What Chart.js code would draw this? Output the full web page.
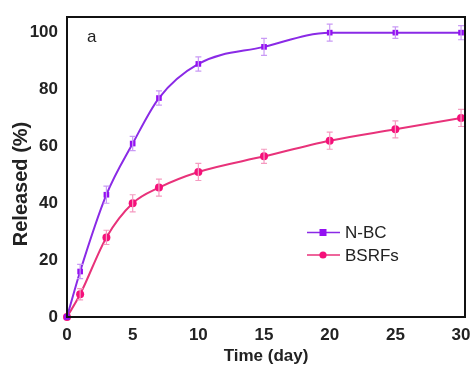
<!DOCTYPE html>
<html><head><meta charset="utf-8">
<script src="https://cdn.jsdelivr.net/npm/chart.js@4/dist/chart.umd.min.js"></script>
<style>html,body{margin:0;padding:0;background:#fff;}#wrap{width:470px;height:365px;}</style>
</head><body><div id="wrap"><canvas id="c" width="470" height="365"></canvas></div>
<script>
const timeDays = [0, 1, 3, 5, 7, 10, 15, 20, 25, 30];
const nbcValues = [0, 16, 43, 61, 77, 89, 95, 100, 100, 100];
const nbcErrors = [0, 2.5, 3, 2.5, 2.5, 2.5, 3, 3, 2, 2.5];
const bsrfValues = [0, 8, 28, 40, 45.5, 51, 56.5, 62, 66, 70];
const bsrfErrors = [0, 2, 2.5, 3, 3, 3, 2.5, 3, 3, 3];
const xTickValues = [0, 5, 10, 15, 20, 25, 30];
const yTickValues = [0, 20, 40, 60, 80, 100];
const seriesNames = ['N-BC', 'BSRFs'];
const panelLabel = 'a';
const xTitle = 'Time (day)';
const yTitle = 'Released (%)';

const nbcLine = '#8a2ae6', nbcMark = '#9410f2', nbcErr = '#c99af5';
const bsrfLine = '#e8327a', bsrfMark = '#f5107a', bsrfErr = '#f59ac0';

const toXY = (xs, ys) => xs.map((x, i) => ({x: x, y: ys[i]}));
const FAM = '"Liberation Sans", Arial, sans-serif';

const errorBars = {
  id: 'errorBars',
  afterDatasetsDraw(chart) {
    const ctx = chart.ctx, xs = chart.scales.x, ys = chart.scales.y;
    const sets = [[nbcValues, nbcErrors, nbcErr], [bsrfValues, bsrfErrors, bsrfErr]];
    ctx.save();
    sets.forEach(([vals, errs, col]) => {
      ctx.strokeStyle = col; ctx.lineWidth = 1.2;
      timeDays.forEach((t, i) => {
        if (!errs[i]) return;
        const px = xs.getPixelForValue(t);
        const y1 = ys.getPixelForValue(vals[i] + errs[i]);
        const y2 = ys.getPixelForValue(vals[i] - errs[i]);
        ctx.beginPath();
        ctx.moveTo(px, y1); ctx.lineTo(px, y2);
        ctx.moveTo(px - 3, y1); ctx.lineTo(px + 3, y1);
        ctx.moveTo(px - 3, y2); ctx.lineTo(px + 3, y2);
        ctx.stroke();
      });
    });
    ctx.restore();
  }
};

const frameAndLegend = {
  id: 'frameAndLegend',
  afterDraw(chart) {
    const ctx = chart.ctx, a = chart.chartArea;
    ctx.save();
    ctx.strokeStyle = '#111'; ctx.lineWidth = 2;
    ctx.strokeRect(a.left, a.top, a.right - a.left, a.bottom - a.top);
    ctx.fillStyle = '#222';
    ctx.font = '17px ' + FAM;
    ctx.textBaseline = 'middle'; ctx.textAlign = 'left';
    ctx.fillText(panelLabel, a.left + 20, a.top + 20);
    const items = [[seriesNames[0], nbcLine, nbcMark, 'rect'], [seriesNames[1], bsrfLine, bsrfMark, 'circle']];
    const lx = 307, ly0 = 232.5, dy = 22.5;
    items.forEach(([name, lc, mc, st], i) => {
      const y = ly0 + i * dy;
      ctx.strokeStyle = lc; ctx.lineWidth = 1.6;
      ctx.beginPath(); ctx.moveTo(lx, y); ctx.lineTo(lx + 33, y); ctx.stroke();
      ctx.fillStyle = mc;
      if (st === 'rect') ctx.fillRect(lx + 12.5, y - 3.5, 7, 7);
      else { ctx.beginPath(); ctx.arc(lx + 16, y, 3.6, 0, Math.PI * 2); ctx.fill(); }
      ctx.fillStyle = '#222';
      ctx.fillText(name, lx + 38, y + 1);
    });
    // axis titles
    ctx.fillStyle = '#222';
    ctx.font = 'bold 17px ' + FAM;
    ctx.textAlign = 'center';
    ctx.fillText(xTitle, (a.left + a.right) / 2, 356);
    ctx.translate(21, 184);
    ctx.rotate(-Math.PI / 2);
    ctx.font = 'bold 20px ' + FAM;
    ctx.fillText(yTitle, 0, 0);
    ctx.restore();
  }
};

const tickFont = {family: FAM, size: 17, weight: 'bold'};

new Chart(document.getElementById('c'), {
  type: 'line',
  data: {
    datasets: [
      {label: seriesNames[0], data: toXY(timeDays, nbcValues), borderColor: nbcLine, backgroundColor: nbcMark,
       borderWidth: 2, pointStyle: 'rect', pointRadius: 4, pointBorderWidth: 0, cubicInterpolationMode: 'monotone', clip: false},
      {label: seriesNames[1], data: toXY(timeDays, bsrfValues), borderColor: bsrfLine, backgroundColor: bsrfMark,
       borderWidth: 2, pointStyle: 'circle', pointRadius: 4, pointBorderWidth: 0, cubicInterpolationMode: 'monotone', clip: false}
    ]
  },
  options: {
    responsive: false, animation: false, devicePixelRatio: 1,
    layout: {padding: {top: 17, right: 5, left: 0, bottom: 0}},
    plugins: {legend: {display: false}, tooltip: {enabled: false}},
    scales: {
      x: {
        type: 'linear', min: 0, max: 30.3,
        afterBuildTicks: s => { s.ticks = xTickValues.map(v => ({value: v})); },
        afterFit: s => { s.height = 48; s.paddingLeft = 0; s.paddingRight = 0; },
        grid: {display: false, drawOnChartArea: false, drawTicks: true, tickLength: 6, tickWidth: 2, tickColor: '#111'},
        border: {display: true, color: '#111', width: 2},
        ticks: {color: '#222', font: tickFont, padding: 2, maxRotation: 0},
        title: {display: false}
      },
      y: {
        type: 'linear', min: 0, max: 105.5,
        afterBuildTicks: s => { s.ticks = yTickValues.map(v => ({value: v})); },
        afterFit: s => { s.width = 67; s.paddingTop = 0; s.paddingBottom = 0; },
        grid: {display: false, drawOnChartArea: false, drawTicks: true, tickLength: 6, tickWidth: 2, tickColor: '#111'},
        border: {display: true, color: '#111', width: 2},
        ticks: {color: '#222', font: tickFont, padding: 3},
        title: {display: false}
      }
    }
  },
  plugins: [errorBars, frameAndLegend]
});
</script></body></html>
